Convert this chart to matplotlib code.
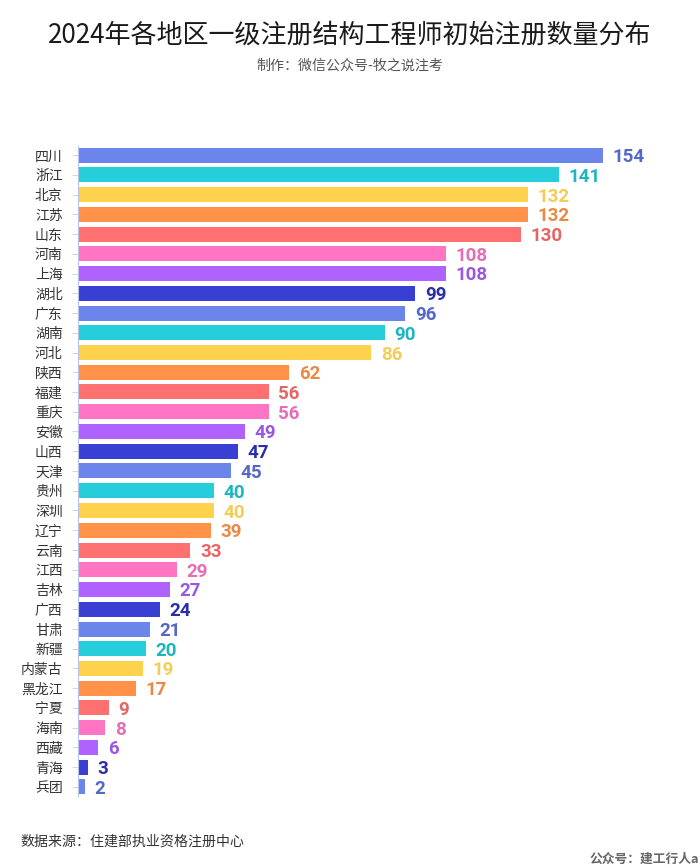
import matplotlib
matplotlib.use("Agg")
import matplotlib.pyplot as plt

plt.rcParams["font.family"] = ["Noto Sans CJK SC", "DejaVu Sans"]

W, H = 700, 866

regions = ["四川", "浙江", "北京", "江苏", "山东", "河南", "上海", "湖北", "广东", "湖南", "河北",
           "陕西", "福建", "重庆", "安徽", "山西", "天津", "贵州", "深圳", "辽宁", "云南", "江西",
           "吉林", "广西", "甘肃", "新疆", "内蒙古", "黑龙江", "宁夏", "海南", "西藏", "青海", "兵团"]
counts = [154, 141, 132, 132, 130, 108, 108, 99, 96, 90, 86,
          62, 56, 56, 49, 47, 45, 40, 40, 39, 33, 29,
          27, 24, 21, 20, 19, 17, 9, 8, 6, 3, 2]

# ---------- Theme ----------
BAR_COLORS = ["#6B85EB", "#26CEDB", "#FFD24D", "#FF9248", "#FF7070", "#FF75C3", "#B062FF", "#3A3FD4"]
NUM_COLORS = ["#5468C8", "#1FB5C0", "#F2CE55", "#E88A45", "#E56565", "#E56DB5", "#9A58E0", "#2A2FA8"]
TEXT = "#333333"

fig = plt.figure(figsize=(W / 100, H / 100), dpi=100, facecolor="white")

# axes box in pixels: left 78, right 690, top 146, bottom 796
ax = fig.add_axes([78 / W, 1 - 796 / H, (690 - 78) / W, (796 - 146) / H])
ax.set_xlim(0, (690 - 78) / 3.409)
ax.set_ylim(32 + 9 / 19.75, -9 / 19.75)

y = list(range(len(regions)))
ax.barh(y, counts, height=15 / 19.75,
        color=[BAR_COLORS[i % 8] for i in y])

for i, val in enumerate(counts):
    ax.text(val + 2.8, i, str(val), va="center_baseline", ha="left",
            fontsize=13.5, fontweight="bold", family="Roboto",
            color=NUM_COLORS[i % 8])

ax.set_yticks(y)
ax.set_yticklabels(regions, fontsize=10, color=TEXT)
ax.tick_params(axis="y", length=4, width=0.6, color="#C8D0E8", pad=7)
ax.xaxis.set_visible(False)
for side in ["top", "right", "bottom"]:
    ax.spines[side].set_visible(False)
ax.spines["left"].set_color("#B8C4E8")
ax.spines["left"].set_linewidth(0.8)

fig.text(350 / W, 1 - 35 / H, "2024年各地区一级注册结构工程师初始注册数量分布",
         ha="center", va="center", fontsize=18.75, color="#1a1a1a")
fig.text(350 / W, 1 - 66 / H, "制作：微信公众号-牧之说注考",
         ha="center", va="center", fontsize=10.1, color="#555555")
fig.text(20 / W, 1 - 842 / H, "数据来源：住建部执业资格注册中心",
         ha="left", va="center", fontsize=10.05, color=TEXT)
# right aligned so the last letter stays inside the picture
fig.text(699 / W, 1 - 859 / H, "公众号：建工行人a",
         ha="right", va="center", fontsize=9.2, fontweight="bold", color="#666666")

fig.savefig("out.png", dpi=100, facecolor="white")
